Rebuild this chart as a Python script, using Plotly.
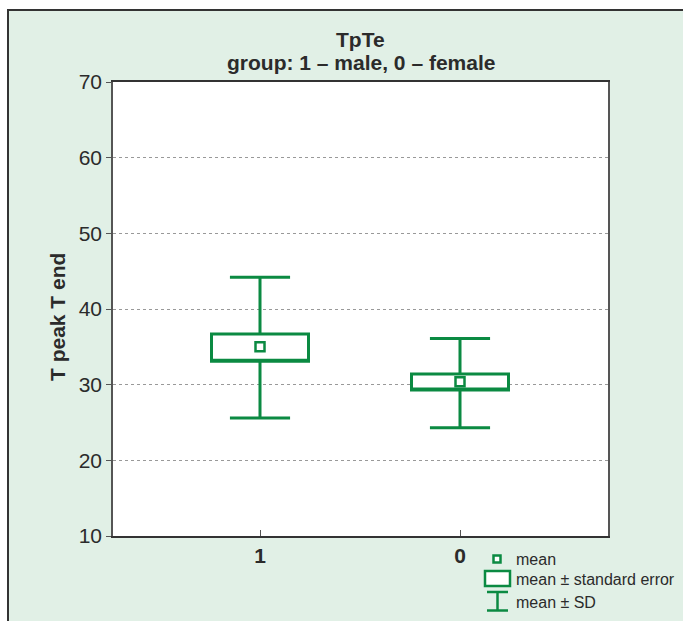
import plotly.graph_objects as go

# ---- data ----
groups = ["1", "0"]
means = [35.0, 30.4]
se_low = [33.1, 29.3]
se_high = [36.7, 31.4]
sd_low = [25.6, 24.3]
sd_high = [44.2, 36.1]
y_ticks = [10, 20, 30, 40, 50, 60, 70]
title_lines = ["TpTe", "group: 1 – male, 0 – female"]

GREEN = "#0b8a42"
PANEL = "#e1f0e6"
TXT = "#2b2b2b"
FONT = "Liberation Sans, Arial, sans-serif"

W, H = 683, 621
L, R, T, B = 113, 75, 82, 85
PW, PH = W - L - R, H - T - B


def px(x):
    return (x - L) / PW


def py(y):
    return (H - B - y) / PH


fig = go.Figure()

fig.add_trace(go.Box(
    x=groups,
    q1=se_low,
    median=se_low,
    q3=se_high,
    lowerfence=sd_low,
    upperfence=sd_high,
    boxpoints=False,
    width=0.485,
    whiskerwidth=0.62,
    line=dict(color=GREEN, width=3),
    fillcolor="white",
    showlegend=False,
    hoverinfo="skip",
))

fig.add_trace(go.Scatter(
    x=groups,
    y=means,
    mode="markers",
    marker=dict(symbol="square-open", size=9, color=GREEN,
                line=dict(color=GREEN, width=2.5)),
    showlegend=False,
    hoverinfo="skip",
))

shapes = [
    # green panel with dark border on top/left
    dict(type="rect", xref="paper", yref="paper", layer="below",
         x0=px(8), x1=px(W + 10), y0=py(H + 10), y1=py(10),
         fillcolor=PANEL, line=dict(color="#333333", width=2)),
    # white plot area
    dict(type="rect", xref="paper", yref="paper", layer="below",
         x0=0, x1=1, y0=0, y1=1, fillcolor="white", line=dict(width=0)),
    # legend: mean marker
    dict(type="rect", xref="paper", yref="paper",
         x0=px(493.5), x1=px(500.5), y0=py(562.5), y1=py(555.5),
         fillcolor="white", line=dict(color=GREEN, width=2.5)),
    # legend: SE box
    dict(type="rect", xref="paper", yref="paper",
         x0=px(485), x1=px(510), y0=py(586), y1=py(571),
         fillcolor="white", line=dict(color=GREEN, width=2.5)),
    # legend: SD whisker
    dict(type="line", xref="paper", yref="paper",
         x0=px(487), x1=px(508), y0=py(592), y1=py(592),
         line=dict(color=GREEN, width=2.5)),
    dict(type="line", xref="paper", yref="paper",
         x0=px(487), x1=px(508), y0=py(610.5), y1=py(610.5),
         line=dict(color=GREEN, width=2.5)),
    dict(type="line", xref="paper", yref="paper",
         x0=px(497.5), x1=px(497.5), y0=py(610.5), y1=py(592),
         line=dict(color=GREEN, width=2.5)),
]

legend_texts = [("mean", 559), ("mean ± standard error", 579), ("mean ± SD", 602)]
annotations = [
    dict(text=t, xref="paper", yref="paper", x=px(514), y=py(yy),
         xanchor="left", yanchor="middle", showarrow=False,
         font=dict(family=FONT, size=16, color=TXT))
    for t, yy in legend_texts
]
annotations.append(dict(
    text="<b>T peak T end</b>", xref="paper", yref="paper",
    x=px(57), y=py(317), xanchor="center", yanchor="middle",
    textangle=-90, showarrow=False,
    font=dict(family=FONT, size=21, color=TXT)))
for t, yy in zip(title_lines, [40, 62]):
    annotations.append(dict(
        text="<b>" + t + "</b>", xref="paper", yref="paper",
        x=px(360.5), y=py(yy), xanchor="center", yanchor="middle",
        showarrow=False, font=dict(family=FONT, size=21, color=TXT)))

fig.update_layout(
    width=W, height=H,
    margin=dict(l=L, r=R, t=T, b=B),
    paper_bgcolor="white",
    plot_bgcolor="rgba(0,0,0,0)",
    font=dict(family=FONT, color=TXT),
    shapes=shapes,
    annotations=annotations,
    showlegend=False,
)

fig.update_xaxes(
    type="category",
    categoryorder="array", categoryarray=groups,
    range=[-0.735, 1.74],
    showgrid=False, zeroline=False,
    showline=True, linecolor="#333333", linewidth=1.5, mirror=True,
    ticks="inside", ticklen=6, tickcolor="#555555",
    tickfont=dict(family=FONT, size=21, color=TXT),
    tickprefix="<b>", ticksuffix="</b>",
)

fig.update_yaxes(
    range=[10, 70],
    tickvals=y_ticks,
    showgrid=True, gridcolor="#999999", griddash="dot", gridwidth=1,
    zeroline=False,
    showline=True, linecolor="#555555", linewidth=1.5, mirror=True,
    ticks="outside", ticklen=5, tickcolor="#555555",
    tickfont=dict(family=FONT, size=21, color=TXT),
)

fig.write_html("out.html",
               config={"displayModeBar": False},
               post_script="document.body.style.margin='0';"
                           "document.body.style.overflow='hidden';")
